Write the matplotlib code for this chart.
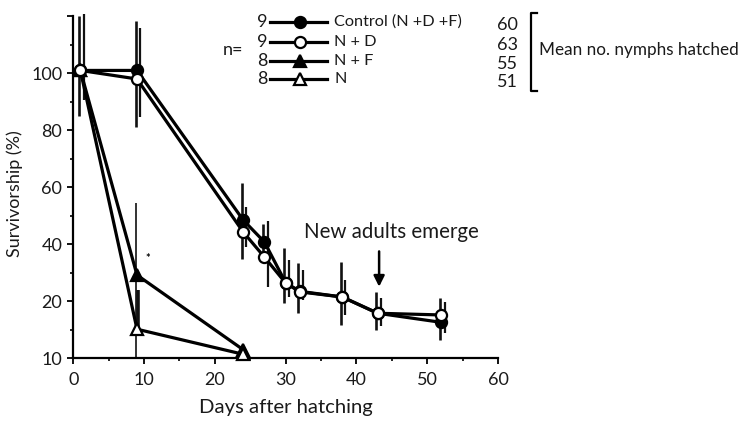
import numpy as np
import matplotlib
matplotlib.use("Agg")
import matplotlib.pyplot as plt
from matplotlib.lines import Line2D
from matplotlib.ticker import FixedLocator, FixedFormatter

plt.rcParams['font.family'] = ['Lato', 'DejaVu Sans']
FS = 13          # tick labels, counts
FS_XLAB = 14.6   # x-axis title
FS_ANN = 14.8    # emergence note
FS_KEY = 11.7    # group names in the key
FS_SIDE = 12.3   # side note
TXT = '#1a1a1a'

# ---- data -------------------------------------------------------------
days = [1, 9, 24, 27, 30, 32, 38, 43, 52]
control = [101, 101, 48.5, 40.8, 26.5, 23.5, 21.5, 17.9, 16.3]
control_err_lo = [16, 20, 13.5, 6.3, 6.8, 5.5, 5.6, 2.9, 3.1]
control_err_hi = [19, 17.5, 13, 6.2, 12.2, 9.9, 12.2, 5.4, 4.9]

n_d = [101, 98, 44.3, 35.5, 26.4, 23.3, 21.5, 17.9, 17.6]
n_d_err_lo = [10.4, 13.2, 5.3, 10.5, 4.9, 2.8, 3.9, 2.3, 3.2]
n_d_err_hi = [19.8, 17.8, 8.7, 12.5, 8.1, 7.7, 5.9, 3.3, 2.3]

days_short = [1, 9, 24]
n_f = [101, 29.2, 11.5]
n_f_err_lo = [0, 19.2, 0]
n_f_err_hi = [0, 25.4, 0]

n_only = [101, 15.1, 10.7]
n_only_err_lo = [0, 0, 0]
n_only_err_hi = [0, 8.9, 0]

group_labels = ['Control (N +D +F)', 'N + D', 'N + F', 'N']
group_n = ['9', '9', '8', '8']
mean_hatched = ['60', '63', '55', '51']

x_ticks = [0, 10, 20, 30, 40, 50, 60]
y_ticks = [10, 20, 40, 60, 80, 100, 120]
y_tick_labels = ['10', '20', '40', '60', '80', '100', '']
y_minor = [15, 30, 50, 70, 90, 110]

# ---- figure -----------------------------------------------------------
W, H = 742, 422
fig = plt.figure(figsize=(W / 100, H / 100), dpi=100)
ax = fig.add_axes([0.0988, 0.151, 0.5724, 0.8104])


def fwd(y):
    y = np.asarray(y, dtype=float)
    return np.where(y >= 20, y, 2 * y - 20)


def inv(t):
    t = np.asarray(t, dtype=float)
    return np.where(t >= 20, t, (t + 20) / 2)


# survivorship axis is compressed below 20 %
ax.set_yscale('function', functions=(fwd, inv))
ax.set_xlim(0, 60)
ax.set_ylim(10, 120)


def draw_err(x, y, lo, hi, shift, lw):
    x = np.asarray(x, float) + shift
    y = np.asarray(y, float)
    lo = np.asarray(lo, float)
    hi = np.asarray(hi, float)
    m = (lo + hi) > 0
    ax.vlines(x[m], (y - lo)[m], (y + hi)[m], colors='#111111',
              linewidth=lw, zorder=1, clip_on=False)


draw_err(days, control, control_err_lo, control_err_hi, -0.2, 1.9)
draw_err(days, n_d, n_d_err_lo, n_d_err_hi, 0.45, 1.6)
draw_err(days_short, n_f, n_f_err_lo, n_f_err_hi, -0.15, 1.2)
draw_err(days_short, n_only, n_only_err_lo, n_only_err_hi, 0.13, 2.6)

LW = 2.3
MS = 8
MEW = 1.6
ax.plot(days_short, n_f, '-', color='black', lw=LW, marker='^', ms=MS,
        mfc='black', mec='black', mew=MEW, zorder=3, clip_on=False)
ax.plot(days_short, n_only, '-', color='black', lw=LW, marker='^', ms=MS,
        mfc='white', mec='black', mew=MEW, zorder=3, clip_on=False)
ax.plot(days, control, '-', color='black', lw=LW, marker='o', ms=MS,
        mfc='black', mec='black', mew=MEW, zorder=4, clip_on=False)
ax.plot(days, n_d, '-', color='black', lw=LW, marker='o', ms=MS,
        mfc='white', mec='black', mew=MEW, zorder=5, clip_on=False)

# significance mark next to the day-9 N + F point
ax.text(10.55, 35, '*', ha='center', va='center', fontsize=8,
        fontweight='bold', color='black')

# adult emergence
ax.annotate('', xy=(43.2, 25.1), xytext=(43.2, 37.5),
            arrowprops=dict(arrowstyle='-|>', color='black', lw=1.8,
                            mutation_scale=16, shrinkA=0, shrinkB=0))
ax.text(44.9, 44.4, 'New adults emerge', ha='center', va='center',
        fontsize=FS_ANN, color=TXT)

# axes styling
for s in ('top', 'right'):
    ax.spines[s].set_visible(False)
for s in ('left', 'bottom'):
    ax.spines[s].set_linewidth(1.6)
ax.yaxis.set_major_locator(FixedLocator(y_ticks))
ax.yaxis.set_major_formatter(FixedFormatter(y_tick_labels))
ax.yaxis.set_minor_locator(FixedLocator(y_minor))
ax.set_xticks(x_ticks)
ax.xaxis.set_minor_locator(FixedLocator(np.arange(5, 60, 10)))
ax.tick_params(which='major', length=4, width=1.3, labelsize=FS,
               direction='out', pad=4, colors='black', labelcolor=TXT)
ax.tick_params(axis='x', which='major', pad=6)
ax.tick_params(which='minor', length=2.5, width=1.2, direction='out')
ax.set_xlabel('Days after hatching', fontsize=FS_XLAB, color=TXT, labelpad=8)
ax.set_ylabel('Survivorship (%)', fontsize=FS, color=TXT)
ax.yaxis.set_label_coords(-0.118, 0.48)

# ---- hand-drawn key ---------------------------------------------------


def fx(px):
    return px / W


def fy(py):
    return 1 - py / H


rows = [22, 42, 61, 79]
key_markers = [('o', 'black'), ('o', 'white'), ('^', 'black'), ('^', 'white')]
for r, (mk, face), lab, n in zip(rows, key_markers, group_labels, group_n):
    fig.add_artist(Line2D([fx(270), fx(327)], [fy(r), fy(r)],
                          transform=fig.transFigure, color='black', lw=LW))
    fig.add_artist(Line2D([fx(300)], [fy(r)], transform=fig.transFigure,
                          marker=mk, ms=MS, mfc=face, mec='black', mew=MEW,
                          linestyle='none'))
    fig.text(fx(268), fy(r), n, ha='right', va='center', fontsize=FS,
             color=TXT)
    fig.text(fx(334), fy(r), lab, ha='left', va='center', fontsize=FS_KEY,
             color=TXT)
fig.text(fx(223), fy(50), 'n=', ha='left', va='center', fontsize=FS,
         color=TXT)

num_rows = [25, 45, 64, 82]
for r, v in zip(num_rows, mean_hatched):
    fig.text(fx(497), fy(r), v, ha='left', va='center', fontsize=FS,
             color=TXT)
fig.add_artist(Line2D([fx(537), fx(531), fx(531), fx(537)],
                      [fy(13), fy(13), fy(91), fy(91)],
                      transform=fig.transFigure, color='black', lw=1.6))
fig.text(fx(539), fy(50), 'Mean no. nymphs hatched', ha='left', va='center',
         fontsize=FS_SIDE, color=TXT)

fig.savefig('out.png', dpi=100)
